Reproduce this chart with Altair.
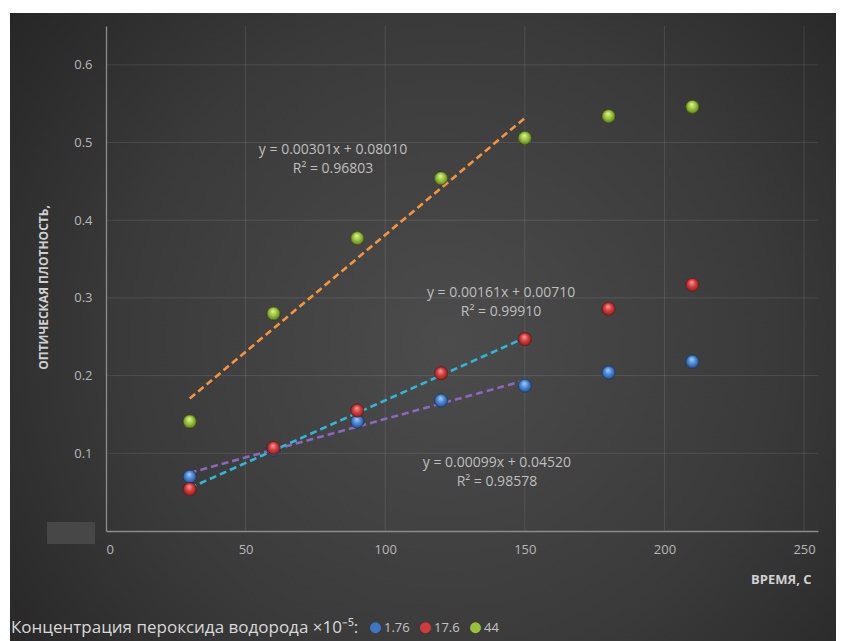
import altair as alt
import pandas as pd

# Measurements: optical density vs. time for three H2O2 concentrations
times = [30, 60, 90, 120, 150, 180, 210]
series_names = ["1.76", "17.6", "44"]
od_1_76 = [0.070, 0.105, 0.141, 0.168, 0.187, 0.204, 0.218]
od_17_6 = [0.054, 0.107, 0.155, 0.203, 0.247, 0.286, 0.317]
od_44 = [0.141, 0.280, 0.377, 0.454, 0.506, 0.534, 0.546]
series_values = [od_1_76, od_17_6, od_44]

# Linear trend lines (fitted over 30..150 s)
slopes = [0.00099, 0.00161, 0.00301]
intercepts = [0.04520, 0.00710, 0.08010]
r_squared = ["0.98578", "0.99910", "0.96803"]
fit_range = [30, 150]

# Anchor points (data units) of the first line of each trend equation label
label_anchor_t = [140.0, 141.5, 81.3]
label_anchor_v = [0.0875, 0.3063, 0.4903]

x_ticks = [0, 50, 100, 150, 200, 250]
y_ticks = [0.1, 0.2, 0.3, 0.4, 0.5, 0.6]

W, H = 712, 505
FONT = "Open Sans"

point_colors = ["#3b78c8", "#d43a3a", "#98c23a"]
sphere_stops = [
    ["#a9d0fa", "#4b8ad8", "#1d4a8a"],
    ["#f7a0a0", "#d93c3c", "#861818"],
    ["#e2f59a", "#9dc63d", "#567a18"],
]
line_colors = ["#8a68bd", "#2fb7d6", "#f7953f"]

xs = alt.Scale(domain=[0, 255], nice=False, zero=True)
ys = alt.Scale(domain=[0, 0.65], nice=False, zero=True)

x_axis = alt.Axis(
    values=x_ticks, grid=False, ticks=False, zindex=1,
    title="ВРЕМЯ, С", titleAlign="right", titleX=705, titleY=48,
    titleBaseline="middle", titleFontWeight="bold", titleFontSize=13,
    titleColor="#d0d0d0", labelPadding=12,
)
y_axis = alt.Axis(
    values=y_ticks, grid=False, ticks=False, zindex=1, format=".1f",
    title="ОПТИЧЕСКАЯ ПЛОТНОСТЬ,", titleX=-63, titleY=261,
    titleAlign="center", titleBaseline="middle", titleAngle=270,
    titleFontWeight="bold", titleFontSize=12, titleColor="#d0d0d0",
    labelPadding=14,
)

X = alt.X("t:Q", scale=xs, axis=x_axis)
Y = alt.Y("v:Q", scale=ys, axis=y_axis)

one_row = pd.DataFrame({"k": [0]})

# Dark radial-gradient panel behind the whole chart
panel = alt.Chart(one_row).mark_rect(
    fill={
        "gradient": "radial",
        "x1": 0.53, "y1": 0.52, "r1": 0.0,
        "x2": 0.53, "y2": 0.52, "r2": 0.72,
        "stops": [
            {"offset": 0.0, "color": "#4c4c4c"},
            {"offset": 0.55, "color": "#3a3a3a"},
            {"offset": 1.0, "color": "#222222"},
        ],
    }
).encode(
    x=alt.value(-96), x2=alt.value(730), y=alt.value(-13), y2=alt.value(615)
)

# Small grey box next to the origin
corner_box = alt.Chart(one_row).mark_rect(fill="#474747").encode(
    x=alt.value(-59), x2=alt.value(-11), y=alt.value(496), y2=alt.value(518)
)

grid_h = alt.Chart(pd.DataFrame({"v": y_ticks})).mark_rule(
    stroke="#ffffff", strokeOpacity=0.1, strokeWidth=1
).encode(y=Y, x=alt.value(0), x2=alt.value(W))

grid_v = alt.Chart(pd.DataFrame({"t": x_ticks[1:]})).mark_rule(
    stroke="#ffffff", strokeOpacity=0.1, strokeWidth=1
).encode(x=X, y=alt.value(0), y2=alt.value(H))

rows = []
for name, vals in zip(series_names, series_values):
    for t, v in zip(times, vals):
        rows.append({"t": t, "v": v, "conc": name})
points_df = pd.DataFrame(rows)

POINT_SIZE = 175

# Flat points carry the legend; shaded spheres are drawn on top
legend_points = alt.Chart(points_df).mark_circle(size=POINT_SIZE, opacity=1).encode(
    x=X, y=Y,
    color=alt.Color(
        "conc:N",
        scale=alt.Scale(domain=series_names, range=point_colors),
        sort=series_names,
        legend=alt.Legend(
            title="Концентрация пероксида водорода ×10⁻⁵:",
            orient="none", legendX=-95, legendY=595, direction="horizontal",
            titleOrient="left", titleFontSize=17, titleFontWeight="normal",
            titleColor="#d9d9d9", titleFont=FONT, titlePadding=10,
            titleLimit=600,
            labelColor="#c4c4c4", labelFontSize=13, labelFont=FONT,
            symbolType="circle", symbolSize=120, symbolStrokeWidth=0,
            symbolOpacity=1, columnPadding=9, labelOffset=2,
        ),
    ),
)

layers = [panel, corner_box, grid_h, grid_v]

for i in range(3):
    a, b = slopes[i], intercepts[i]
    fit_df = pd.DataFrame({"t": fit_range, "v": [a * t + b for t in fit_range]})
    layers.append(
        alt.Chart(fit_df).mark_line(
            color=line_colors[i], strokeWidth=2.6, strokeDash=[7, 4]
        ).encode(x=X, y=Y)
    )

layers.append(legend_points)

for i, name in enumerate(series_names):
    c0, c1, c2 = sphere_stops[i]
    sphere = {
        "gradient": "radial",
        "x1": 0.45, "y1": 0.3, "r1": 0.0,
        "x2": 0.5, "y2": 0.5, "r2": 0.55,
        "stops": [
            {"offset": 0.0, "color": c0},
            {"offset": 0.5, "color": c1},
            {"offset": 1.0, "color": c2},
        ],
    }
    layers.append(
        alt.Chart(points_df[points_df["conc"] == name]).mark_circle(
            size=POINT_SIZE, opacity=1, fill=sphere, stroke="#1a1a1a",
            strokeOpacity=0.45, strokeWidth=1,
        ).encode(x=X, y=Y)
    )

eq_text = [
    f"y = {slopes[i]:.5f}x + {intercepts[i]:.5f}\nR² = {r_squared[i]}"
    for i in range(3)
]
labels_df = pd.DataFrame({"t": label_anchor_t, "v": label_anchor_v, "txt": eq_text})
layers.append(
    alt.Chart(labels_df).mark_text(
        font=FONT, fontSize=14, color="#bfbfbf", align="center",
        baseline="middle", lineBreak="\n", lineHeight=19,
    ).encode(x=X, y=Y, text="txt:N")
)

chart = alt.layer(*layers).properties(
    width=W, height=H,
    autosize=alt.AutoSizeParams(type="none"),
    padding={"left": 106, "top": 26, "right": 30, "bottom": 110},
    background="white",
).configure_view(stroke=None).configure_axis(
    domainColor="#8c8c8c", domainWidth=1.3, labelColor="#b8b8b8",
    labelFontSize=13, labelFont=FONT, titleFont=FONT,
)

chart.save("out.html", embed_options={"renderer": "svg", "actions": False})
